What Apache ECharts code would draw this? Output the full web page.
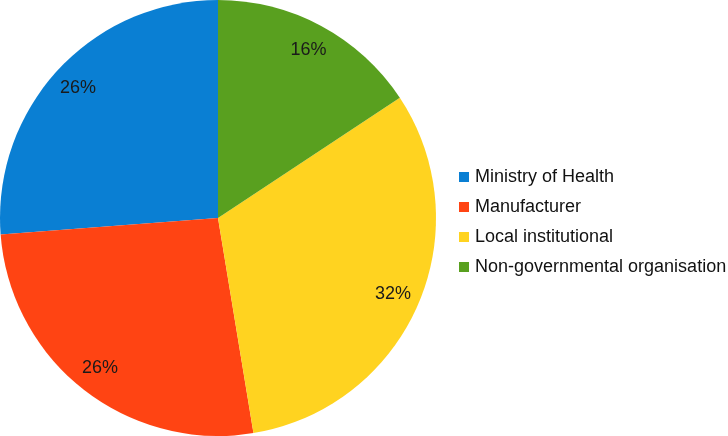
<!DOCTYPE html>
<html>
<head>
<meta charset="utf-8">
<script src="https://cdn.jsdelivr.net/npm/echarts@6/dist/echarts.min.js"></script>
<style>
  html, body { margin: 0; padding: 0; background: #fff; }
  #chart { width: 728px; height: 436px; }
</style>
</head>
<body>
<div id="chart"></div>
<script>
// sources of funding, share in percent (slice sizes, labels as printed)
const categories = ['Ministry of Health', 'Manufacturer', 'Local institutional', 'Non-governmental organisation'];
const shares = [26.2, 26.4, 31.7, 15.7];
const shareLabels = ['26%', '26%', '32%', '16%'];
const colors = ['#0a7fd3', '#ff4413', '#ffd320', '#59a01f'];

const chart = echarts.init(document.getElementById('chart'));

chart.setOption({
    animation: false,
    legend: {
        orient: 'vertical',
        left: 454,
        top: 163,
        itemWidth: 10,
        itemHeight: 10,
        itemGap: 12,
        icon: 'rect',
        data: categories,
        textStyle: {
            fontFamily: 'Arial',
            fontSize: 18,
            color: '#111',
            padding: [0, 0, 0, 1]
        }
    },
    series: [
        {
            // the visible pie
            type: 'pie',
            center: [218, 218],
            radius: [0, 218],
            startAngle: 90,
            clockwise: false,
            silent: true,
            label: { show: false },
            labelLine: { show: false },
            data: categories.map((name, i) => ({
                name: name,
                value: shares[i],
                itemStyle: { color: colors[i] }
            }))
        },
        {
            // transparent ring, only used to place the percent labels
            type: 'pie',
            center: [218, 218],
            radius: [158, 218],
            startAngle: 90,
            clockwise: false,
            silent: true,
            legendHoverLink: false,
            itemStyle: { color: 'rgba(0,0,0,0)' },
            label: {
                show: true,
                position: 'inside',
                formatter: (p) => shareLabels[p.dataIndex],
                fontFamily: 'Arial',
                fontSize: 18,
                color: '#1a1a1a'
            },
            labelLine: { show: false },
            data: categories.map((name, i) => ({ name: name, value: shares[i] }))
        }
    ]
});
</script>
</body>
</html>
